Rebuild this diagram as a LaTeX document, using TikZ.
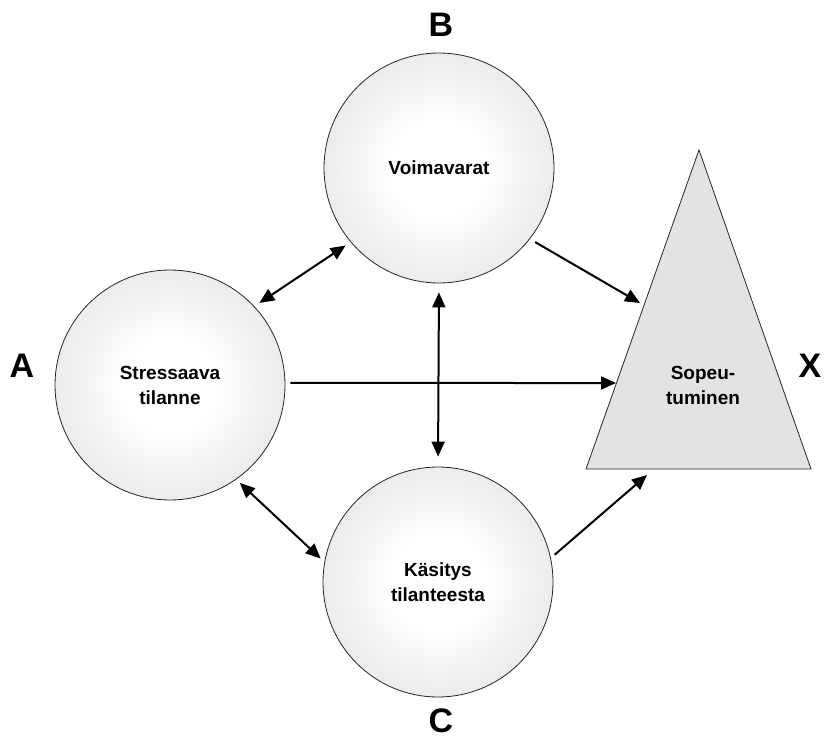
\documentclass[tikz,border=0pt]{standalone}
\usepackage{fontspec}
\setmainfont{Liberation Sans}
\usetikzlibrary{arrows.meta}
\pgfdeclareradialshading{ballshade}{\pgfpoint{0bp}{0bp}}{color(0bp)=(white); color(10bp)=(white); color(32bp)=(black!11); color(50bp)=(black!35)}
\begin{document}
\begin{tikzpicture}[x=1pt,y=-1pt,
  ball/.style={circle, minimum size=230pt, inner sep=0pt, draw=black!85, line width=0.8pt, shading=ballshade, align=center, font=\fontsize{19}{25}\selectfont\bfseries},
  tri/.style={fill=black!11, draw=black!85, line width=0.8pt, line join=miter},
  lbl/.style={align=center, font=\fontsize{19}{25}\selectfont\bfseries},
  conn/.style={line width=2pt, -{Triangle[length=15pt,width=13pt]}},
  biconn/.style={line width=2pt, {Triangle[length=15pt,width=13pt]}-{Triangle[length=15pt,width=13pt]}},
  letter/.style={inner sep=0pt, font=\fontsize{34}{38}\selectfont\bfseries}]
\useasboundingbox (0,0) rectangle (824,741);
% circles
\node[ball] (A) at (170,385) {Stressaava\\tilanne};
\node[ball] (B) at (439,168) {Voimavarat};
\node[ball] (C) at (438,582) {Käsitys\\tilanteesta};
% triangle
\draw[tri] (699,150) -- (811,469) -- (586,469) -- cycle;
\node[lbl] (X) at (703,385) {Sopeu-\\tuminen};
\coordinate (xb) at (640,303);
\coordinate (xa) at (616,383);
\coordinate (xc) at (647,475);
% letters
\node[letter] (lA) at (22,366) {A};
\node[letter] (lB) at (441,25) {B};
\node[letter] (lC) at (441,721) {C};
\node[letter] (lX) at (810,366) {X};
% connectors
\draw[biconn, shorten <=6pt, shorten >=6pt] (A.43) -- (B.220);
\draw[conn, shorten <=6pt] (B.-38) -- (xb);
\draw[conn, shorten <=5pt] (A.1) -- (xa);
\draw[biconn, shorten <=9pt, shorten >=10pt] (B.south) -- (C.north);
\draw[biconn, shorten <=5pt, shorten >=5pt] (A.-55) -- (C.170);
\draw[conn, shorten <=5pt] (C.12) -- (xc);
\end{tikzpicture}
\end{document}
